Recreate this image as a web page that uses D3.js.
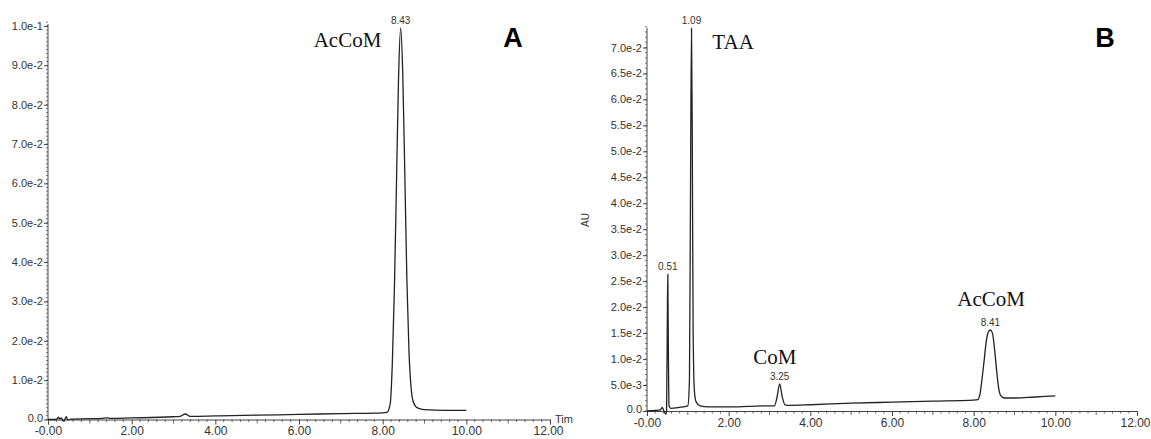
<html>
  <head>
    <title>Chromatograms A / B</title>
    <script src="https://d3js.org/d3.v7.min.js"></script>
    <style>
      body { margin: 0; background: white; }
      .tick text { font-family: Arial, "Liberation Sans", sans-serif; fill: #333; }
      .lbl { font-family: "Times New Roman", "Liberation Serif", serif; fill: #111; }
    </style>
  </head>
  <body>
    <svg width="1151" height="439"></svg>

    <script>
      // panel A trace (time, AU)
      var timeA = [0.00, 0.20, 0.25, 0.28, 0.32, 0.36, 0.40, 0.44, 0.47, 0.55, 1.00, 1.30, 1.40, 1.50, 2.00, 3.00, 3.15, 3.28, 3.40, 4.00,
                   5.00, 6.00, 7.00, 8.00, 8.10, 8.18, 8.23, 8.28, 8.33, 8.38, 8.43, 8.48, 8.53, 8.58, 8.63, 8.68, 8.73, 8.80, 8.90, 9.00, 9.50, 10.00];
      var auA   = [0.0000, 0.0000, 0.0006, 0.0001, 0.0004, -0.0004, 0.0000, 0.0007, -0.0001, 0.0001, 0.0002, 0.0003, 0.0004, 0.0003, 0.0004, 0.0007, 0.0008, 0.0014, 0.0008, 0.0009,
                   0.0011, 0.0013, 0.0015, 0.0017, 0.0018, 0.0040, 0.0140, 0.0330, 0.0600, 0.0870, 0.0995, 0.0880, 0.0620, 0.0350, 0.0170, 0.0080, 0.0045, 0.0032, 0.0027, 0.0025, 0.0023, 0.0023];

      // panel B trace (time, AU)
      var timeB = [0.00, 0.20, 0.33, 0.37, 0.40, 0.43, 0.46, 0.48, 0.50, 0.51, 0.52, 0.54, 0.58, 0.80, 0.95, 1.00, 1.04, 1.07, 1.09, 1.11, 1.13, 1.16, 1.20, 1.30, 1.50,
                   2.00, 2.50, 3.00, 3.12, 3.18, 3.25, 3.31, 3.38, 3.50, 4.00, 5.00, 6.00, 7.00, 8.00, 8.10, 8.16, 8.21, 8.26, 8.31, 8.36, 8.41, 8.46, 8.51, 8.56, 8.61, 8.66, 8.75, 9.00, 9.50, 10.00];
      var auB   = [0.0000, 0.0001, 0.0002, 0.0007, 0.0003, -0.0003, -0.0006, 0.0000, 0.0200, 0.0263, 0.0150, 0.0010, 0.0005, 0.0007, 0.0009, 0.0010, 0.0060, 0.0500, 0.0737, 0.0500, 0.0150, 0.0040, 0.0018, 0.0010, 0.0008,
                   0.0008, 0.0009, 0.0010, 0.0010, 0.0025, 0.0052, 0.0028, 0.0012, 0.0011, 0.0012, 0.0015, 0.0017, 0.0019, 0.0021, 0.0022, 0.0035, 0.0065, 0.0100, 0.0135, 0.0152, 0.0156, 0.0150, 0.0120, 0.0080, 0.0045, 0.0030, 0.0025, 0.0025, 0.0027, 0.0029];

      // peak labels
      var peaksA = [{t: 8.43, au: 0.0995, name: "AcCoM"}];
      var peaksB = [{t: 0.51, au: 0.0263, name: ""}, {t: 1.09, au: 0.0737, name: "TAA"},
                    {t: 3.25, au: 0.0052, name: "CoM"}, {t: 8.41, au: 0.0156, name: "AcCoM"}];

      // axis ticks
      var xMajor = [0, 2, 4, 6, 8, 10, 12];
      var yMajorA = [0, 0.01, 0.02, 0.03, 0.04, 0.05, 0.06, 0.07, 0.08, 0.09, 0.1];
      var yLabelsA = ["0.0", "1.0e-2", "2.0e-2", "3.0e-2", "4.0e-2", "5.0e-2", "6.0e-2", "7.0e-2", "8.0e-2", "9.0e-2", "1.0e-1"];
      var yMajorB = [0, 0.005, 0.01, 0.015, 0.02, 0.025, 0.03, 0.035, 0.04, 0.045, 0.05, 0.055, 0.06, 0.065, 0.07];
      var yLabelsB = ["0.0", "5.0e-3", "1.0e-2", "1.5e-2", "2.0e-2", "2.5e-2", "3.0e-2", "3.5e-2", "4.0e-2", "4.5e-2", "5.0e-2", "5.5e-2", "6.0e-2", "6.5e-2", "7.0e-2"];

      var svg = d3.select("svg");
      svg.append("rect").attr("width", 1151).attr("height", 439).attr("fill", "white");

      var drawPanel = function(p){
        var x = d3.scaleLinear().domain([0, 12]).range([p.x0, p.x1]);
        var y = d3.scaleLinear().domain([0, p.yMax]).range([p.y0, p.y1]);
        var g = svg.append("g");

        // minor x ticks every 0.2, medium on odd minutes
        var minorX = d3.range(0, 60).map(function(i){ return i * 0.2; }).filter(function(v){ return Math.abs(v / 2 - Math.round(v / 2)) > 1e-6; });
        minorX.forEach(function(v){
          var odd = Math.abs(v - Math.round(v)) < 1e-6;
          g.append("line").attr("x1", x(v)).attr("x2", x(v)).attr("y1", p.y0).attr("y2", p.y0 + (odd ? 4 : 2.5))
            .attr("stroke", "#444").attr("stroke-width", 0.8);
        });

        // minor y ticks every 0.001
        var nMinor = Math.round(p.yTop / 0.001);
        d3.range(0, nMinor + 1).forEach(function(i){
          var v = i * 0.001;
          g.append("line").attr("x1", p.x0).attr("x2", p.x0 - 2).attr("y1", y(v)).attr("y2", y(v))
            .attr("stroke", "#444").attr("stroke-width", 0.7);
        });

        var xAxis = d3.axisBottom(x).tickValues(xMajor).tickSize(5).tickPadding(2)
          .tickFormat(function(d){ return d === 0 ? "-0.00" : d3.format(".2f")(d); });
        var gx = g.append("g").attr("transform", "translate(0," + p.y0 + ")").call(xAxis);
        gx.select(".domain").attr("stroke", "#444");
        gx.selectAll(".tick line").attr("stroke", "#444");
        gx.selectAll("text").attr("font-size", 12);
        // keep the last label inside the window
        gx.selectAll(".tick text").filter(function(d){ return d === 12; }).attr("dx", -2);

        var yAxis = d3.axisLeft(y).tickValues(p.yTicks).tickSize(4).tickPadding(1)
          .tickFormat(function(d, i){ return p.yLabels[i]; });
        var gy = g.append("g").attr("transform", "translate(" + p.x0 + ",0)").call(yAxis);
        gy.select(".domain").attr("d", "M0," + y(p.yTop) + "V" + p.y0).attr("stroke", "#444");
        gy.selectAll(".tick line").attr("stroke", "#444");
        gy.selectAll("text").attr("font-size", 11);
        // lift the zero label a little off the time labels
        gy.selectAll(".tick text").filter(function(d){ return d === 0; }).attr("dy", "0.15em");

        var line = d3.line().x(function(d){ return x(d[0]); }).y(function(d){ return y(d[1]); }).curve(d3.curveMonotoneX);
        var pts = p.time.map(function(t, i){ return [t, p.au[i]]; });
        g.append("path").attr("d", line(pts)).attr("fill", "none").attr("stroke", "#222").attr("stroke-width", 1.3);

        // retention time labels
        p.peaks.forEach(function(pk){
          g.append("text").attr("x", x(pk.t)).attr("y", y(pk.au) - 4).attr("text-anchor", "middle")
            .attr("font-family", "Arial, 'Liberation Sans', sans-serif").attr("font-size", 10).attr("fill", "#333")
            .text(pk.t.toFixed(2));
        });

        return {x: x, y: y, g: g};
      };

      var A = drawPanel({x0: 48, x1: 550, y0: 419.5, y1: 26, yMax: 0.1, yTop: 0.1005,
                         yTicks: yMajorA, yLabels: yLabelsA, time: timeA, au: auA, peaks: peaksA});
      var B = drawPanel({x0: 647, x1: 1137, y0: 411, y1: 47.5, yMax: 0.07, yTop: 0.0738,
                         yTicks: yMajorB, yLabels: yLabelsB, time: timeB, au: auB, peaks: peaksB});

      // compound names
      A.g.append("text").attr("class", "lbl").attr("x", A.x(6.35)).attr("y", 47).attr("font-size", 21).text(peaksA[0].name);
      B.g.append("text").attr("class", "lbl").attr("x", B.x(1.6)).attr("y", 49).attr("font-size", 21).text(peaksB[1].name);
      B.g.append("text").attr("class", "lbl").attr("x", B.x(2.6)).attr("y", 364).attr("font-size", 21).text(peaksB[2].name);
      B.g.append("text").attr("class", "lbl").attr("x", B.x(7.6)).attr("y", 306).attr("font-size", 21).text(peaksB[3].name);

      // panel letters
      svg.append("text").attr("x", 513).attr("y", 47).attr("text-anchor", "middle")
        .attr("font-family", "Arial, 'Liberation Sans', sans-serif").attr("font-weight", "bold").attr("font-size", 27).text("A");
      svg.append("text").attr("x", 1105).attr("y", 47).attr("text-anchor", "middle")
        .attr("font-family", "Arial, 'Liberation Sans', sans-serif").attr("font-weight", "bold").attr("font-size", 27).text("B");

      // axis titles
      svg.append("text").attr("x", 555).attr("y", 423).attr("font-family", "Arial, 'Liberation Sans', sans-serif")
        .attr("font-size", 11).attr("fill", "#333").text("Tim");
      svg.append("text").attr("transform", "translate(589,220) rotate(-90)").attr("text-anchor", "middle")
        .attr("font-family", "Arial, 'Liberation Sans', sans-serif").attr("font-size", 10).attr("fill", "#333").text("AU");
    </script>
  </body>
</html>
